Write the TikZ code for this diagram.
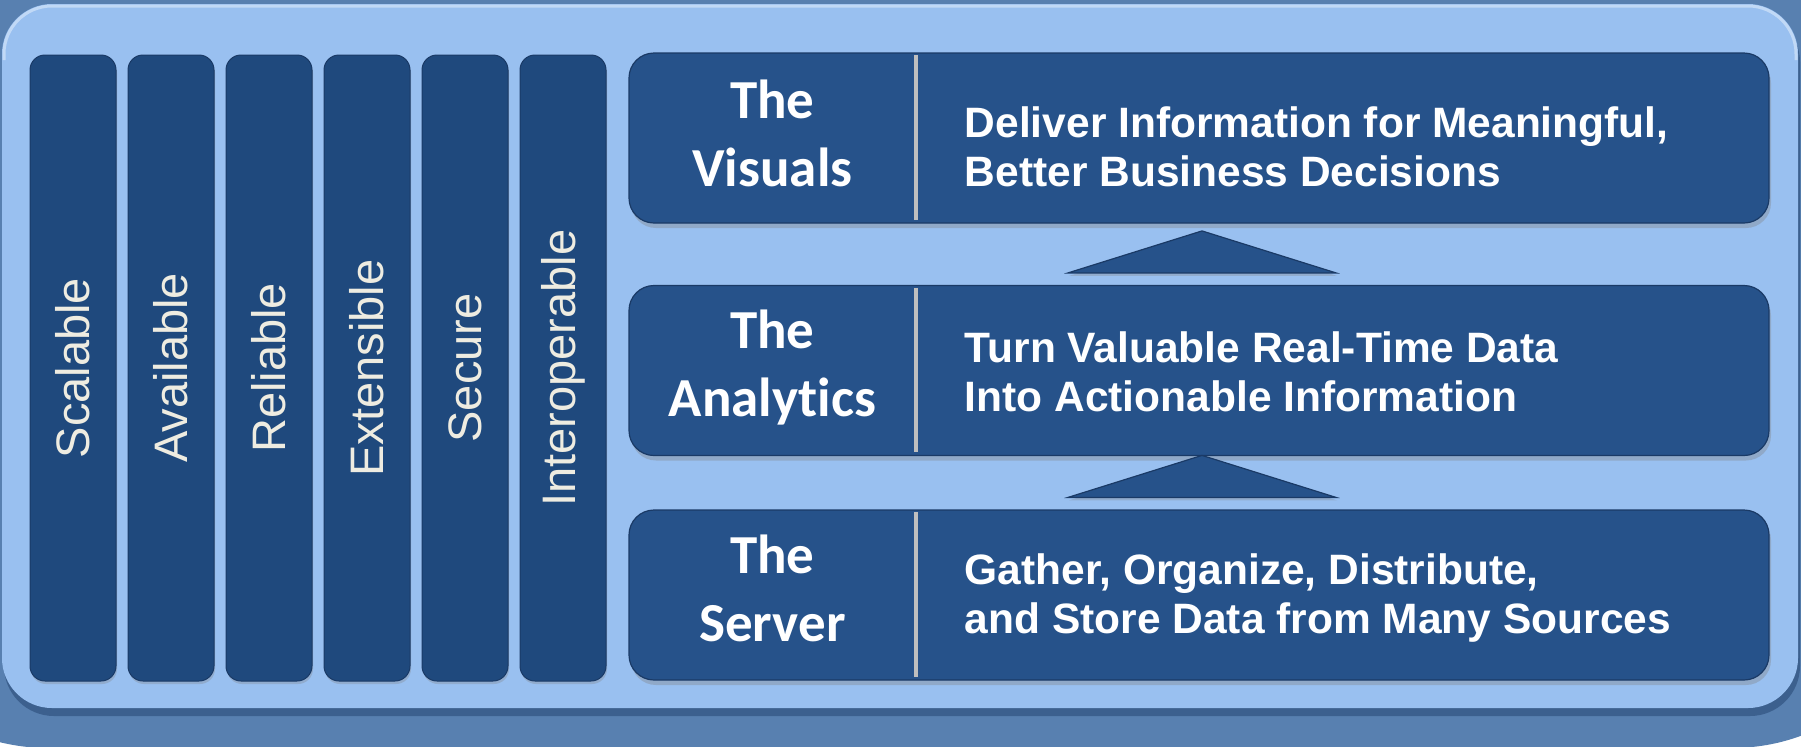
\documentclass[tikz,border=0pt]{standalone}
\usepackage{fontspec}
\setmainfont{Liberation Sans}
\newfontfamily\capfont{Carlito}[Ligatures=NoCommon]
\usepackage{tikz}
\usetikzlibrary{calc}
\usetikzlibrary{shadows}

\definecolor{outerblue}{HTML}{5880B0}
\definecolor{panelblue}{HTML}{99C0F0}
\definecolor{pillarblue}{HTML}{1F497D}
\definecolor{boxblue}{HTML}{26528A}
\definecolor{edgeblue}{HTML}{1A3A66}
\definecolor{cream}{HTML}{EEECE1}
\definecolor{divgray}{HTML}{BFBFBF}

\tikzset{
  pillar/.style={rectangle, rounded corners=7.5pt, fill=pillarblue, draw=edgeblue, line width=.5pt,
    rotate=90, minimum width=313pt, minimum height=43pt, inner sep=0pt, text=cream,
    font=\fontsize{23.5}{28}\selectfont,
    drop shadow={shadow xshift=.5pt, shadow yshift=-1.5pt, opacity=.3}},
  tier/.style={rectangle, rounded corners=12.5pt, fill=boxblue, draw=edgeblue, line width=.6pt,
    minimum width=570pt, minimum height=85pt, inner sep=0pt,
    drop shadow={shadow xshift=1pt, shadow yshift=-2.5pt, opacity=.35}},
  tiername/.style={text=white, align=center, inner sep=0pt,
    font=\capfont\bfseries\fontsize{27.5}{34}\selectfont},
  tiertext/.style={text=white, align=left, anchor=west, inner sep=0pt,
    font=\bfseries\fontsize{21.25}{24.5}\selectfont},
  divider/.style={draw=divgray, line width=2pt},
  uptri/.style={fill=boxblue, draw=edgeblue, line width=.6pt,
    drop shadow={shadow xshift=.5pt, shadow yshift=-1.5pt, opacity=.3}}
}

\begin{document}
\begin{tikzpicture}[x=0.5pt,y=-0.5pt]
	\useasboundingbox (0,0) rectangle (1801,746);
	\clip (0,0) rectangle (1801,746);
	\fill[white] (0,0) rectangle (1801,746);
	\fill[outerblue,rounded corners=100pt] (-152,-300) rectangle (1932,748);
	
	\fill[edgeblue,opacity=.45,rounded corners=25pt] (4,12) rectangle (1800,716);
	\fill[panelblue,rounded corners=25pt] (2,4) rectangle (1798,708);
	\draw[white,opacity=.4,line width=1.5pt,rounded corners=24pt] (4,60) -- (4,6) -- (1796,6) -- (1796,60);
	
	\foreach \name [count=\i from 0] in {Scalable,Available,Reliable,Extensible,Secure,Interoperable}
		\node[pillar] (pil\i) at ({73+98*\i},368) {\name};
	
	\node[tier] (vis) at (1199,138) {};
	\node[tier] (ana) at (1199,370.5) {};
	\node[tier] (srv) at (1199,595) {};
	
	\foreach \t in {vis,ana,srv}
		\draw[divider] ([xshift=144pt,yshift=-1.5pt]\t.north west) -- ([xshift=144pt,yshift=2pt]\t.south west);
	
	\node[tiername] (visname) at ([xshift=72pt,yshift=2.5pt]vis.west) {The\\Visuals};
	\node[tiername] (ananame) at ([xshift=72pt,yshift=1.5pt]ana.west) {The\\Analytics};
	\node[tiername] (srvname) at ([xshift=72pt,yshift=3.5pt]srv.west) {The\\Server};
	
	\node[tiertext] (vistext) at ([xshift=168pt,yshift=-4.5pt]vis.west) {Deliver Information for Meaningful,\\Better Business Decisions};
	\node[tiertext] (anatext) at ([xshift=168pt,yshift=-.5pt]ana.west) {Turn Valuable Real-Time Data\\Into Actionable Information};
	\node[tiertext] (srvtext) at ([xshift=168pt,yshift=-1.5pt]srv.west) {Gather, Organize, Distribute,\\and Store Data from Many Sources};
	
	\foreach \lo/\hi in {ana/vis,srv/ana}
		\draw[uptri] ($(\lo.north)+(-131,-12)$) -- ($(\lo.north)+(137,-12)$) -- ($(\lo.north)+(3,-54)$) -- cycle;
\end{tikzpicture}
\end{document}
